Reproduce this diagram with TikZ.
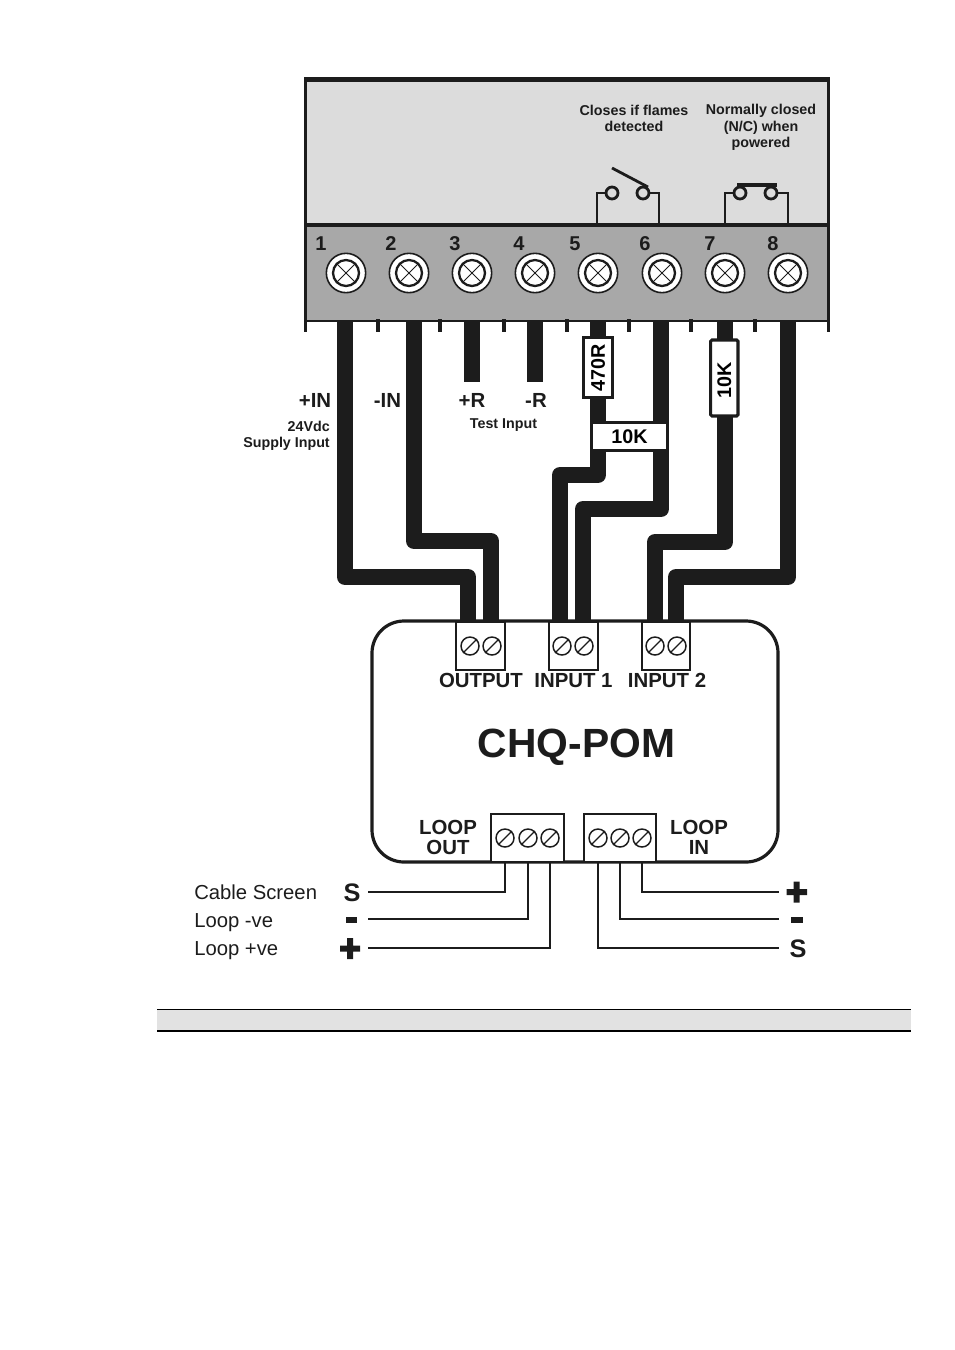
\documentclass[tikz,border=0pt]{standalone}
\usepackage{fontspec}
\setmainfont{Liberation Sans}
\begin{document}
\begin{tikzpicture}[x=0.75pt,y=-0.75pt,
  thin wire/.style={line width=2pt,line join=miter,draw=ink},
  switch wire/.style={line width=2.1pt,line join=miter,draw=ink},
  fat wire/.style={line width=12pt,draw=ink,line join=round},
  tick/.style={line width=2.6pt,draw=ink},
  resistor/.style={draw=ink,fill=white,line width=2.3pt,inner sep=0pt,font=\bfseries\fontsize{14.8}{14.8}\selectfont},
  screw/.style={circle,draw=ink,line width=1.1pt,fill=white,minimum size=13.5pt,inner sep=0pt},
  block/.style={draw=ink,line width=1.3pt,fill=white,inner sep=0pt},
  contact/.style={circle,draw=ink,line width=2.1pt,fill=none,minimum size=9pt,inner sep=0pt},
  lab/.style={text=ink,inner sep=0pt,font=\bfseries\fontsize{15.3}{15.3}\selectfont},
  small/.style={text=ink,inner sep=0pt,font=\bfseries\fontsize{10.7}{12.3}\selectfont,align=center},
  legend/.style={text=ink,inner sep=0pt,anchor=base west,font=\fontsize{15.2}{15.2}\selectfont},
  sym/.style={text=ink,inner sep=0pt,font=\bfseries\fontsize{19}{19}\selectfont},
  num/.style={text=ink,inner sep=0pt,font=\bfseries\fontsize{15}{15}\selectfont}]
\definecolor{ink}{HTML}{1C1C1C}
\definecolor{panel}{HTML}{DCDCDC}
\definecolor{strip}{HTML}{A8A8A8}
\definecolor{band}{HTML}{E2E2E2}
\useasboundingbox (0,0) rectangle (954,1350);

% footer band
\fill[band] (157,1009.5) rectangle (911,1031);
\draw[line width=1pt,draw=black] (157,1009.5) -- (911,1009.5) (157,1031) -- (911,1031);

% housing
\fill[panel] (305.5,79.5) rectangle (828.5,225);
\fill[strip] (305.5,225) rectangle (828.5,321);
\foreach \x in {305.5,378,440,504,567,629,691,755,828.5}
  \draw[tick] (\x,319) -- (\x,332);
\draw[draw=ink,line width=2.3pt] (305.5,321) -- (305.5,79.5) (828.5,79.5) -- (828.5,321);
\draw[draw=ink,line width=3.4pt] (304,79.5) -- (830,79.5);
\draw[draw=ink,line width=2.2pt] (304,321) -- (830,321);
\draw[draw=ink,line width=3pt] (305.5,225) -- (828.5,225);

% screws of the terminal strip
\foreach \n/\x/\lx in {1/346/321,2/409/391,3/472/455,4/535/519,5/598/575,6/662/645,7/725/710,8/788/773}{
  \node[circle,draw=ink,line width=1.2pt,fill=white,minimum size=29.5pt,inner sep=0pt] (t\n) at (\x,273) {};
  \node[circle,draw=ink,line width=1.7pt,fill=white,minimum size=19.5pt,inner sep=0pt] (h\n) at (\x,273) {};
  \draw[draw=ink,line width=0.7pt] (h\n.45) -- (h\n.225) (h\n.135) -- (h\n.315);
  \node[num] (n\n) at (\lx,243.5) {\n};
}

% module body
\draw[draw=ink,line width=2.4pt,fill=white,rounded corners=24pt] (372,621) rectangle (778,862);
\node[text=ink,inner sep=0pt,anchor=base,font=\bfseries\fontsize{30.6}{30.6}\selectfont] (title) at (576.5,757) {CHQ-POM};

% upper terminal blocks
\node[block,minimum width=36.5pt,minimum height=36pt] (bo) at (480.5,646) {};
\node[block,minimum width=36.5pt,minimum height=36pt] (bi1) at (573.5,646) {};
\node[block,minimum width=36.5pt,minimum height=36pt] (bi2) at (666,646) {};
% lower terminal blocks
\node[block,minimum width=54.5pt,minimum height=36pt] (blo) at (527.5,838) {};
\node[block,minimum width=54.5pt,minimum height=36pt] (bli) at (620,838) {};
\foreach \nm/\x/\y in {a/470/646,b/492/646,c/562/646,d/584/646,e/655/646,f/677/646,
  g/505/838,h/528/838,i/550/838,j/598/838,k/620/838,l/642/838}{
  \node[screw] (s\nm) at (\x,\y) {};
  \draw[draw=ink,line width=0.9pt] (s\nm.225) -- (s\nm.45);
}

% fat wires from the strip to the module
\foreach \nm/\x in {1/345,2/414,3/472,4/535,5/598,6/661,7/725,8/788}
  \coordinate (w\nm) at (\x,321);
\foreach \nm/\x in {o1/468,o2/491,i1/560,i2/583,i3/655,i4/676}
  \coordinate (e\nm) at (\x,621);
\draw[fat wire] (w1) |- (eo1 |- 0,577) -- (eo1);
\draw[fat wire] (w2) |- (eo2 |- 0,541) -- (eo2);
\coordinate (r3) at (472,382);
\coordinate (r4) at (535,382);
\draw[fat wire] (w3) -- (r3);
\draw[fat wire] (w4) -- (r4);
\draw[fat wire] (w5) |- (ei1 |- 0,475) -- (ei1);
\draw[fat wire] (w6) |- (ei2 |- 0,509) -- (ei2);
\draw[fat wire] (w7) |- (ei3 |- 0,542) -- (ei3);
\draw[fat wire] (w8) |- (ei4 |- 0,577) -- (ei4);

% resistors
\node[resistor,minimum width=22pt,minimum height=45.5pt] (r470) at (598,367.5) {\rotatebox{90}{470R}};
\node[resistor,minimum width=20.5pt,minimum height=57pt,rounded corners=1pt] (r10a) at (724.3,378) {\rotatebox{90}{10K\hspace{3pt}}};
\node[resistor,minimum width=57.4pt,minimum height=21.4pt] (r10b) at (629.5,436.5) {10K\hspace{3pt}};

% contacts
\coordinate (p5) at (597,225);
\coordinate (p6) at (659,225);
\coordinate (p7) at (725,225);
\coordinate (p8) at (788,225);
\node[contact] (c5) at (612,193) {};
\node[contact] (c6) at (643,193) {};
\node[contact] (c7) at (740,193) {};
\node[contact] (c8) at (771,193) {};
\draw[switch wire] (p5) |- (c5);
\draw[switch wire] (p6) |- (c6);
\draw[switch wire] (p7) |- (c7);
\draw[switch wire] (p8) |- (c8);
\coordinate (bl) at (612,168);
\coordinate (bm) at (648,187);
\draw[switch wire] (bl) -- (bm);
\coordinate (bar1) at (737,184.5);
\coordinate (bar2) at (777,184.5);
\draw[switch wire,line width=3pt] (bar1) -- (bar2);

% loop wires
\coordinate (la) at (368,892); \coordinate (lb) at (368,919); \coordinate (lc) at (368,948);
\coordinate (ra) at (779,892); \coordinate (rb) at (779,919); \coordinate (rc) at (779,948);
\draw[thin wire] (505,862) |- (la);
\draw[thin wire] (528,862) |- (lb);
\draw[thin wire] (550,862) |- (lc);
\draw[thin wire] (642,862) |- (ra);
\draw[thin wire] (620,862) |- (rb);
\draw[thin wire] (598,862) |- (rc);

% labels
\node[small] (tf) at (634,118.5) {Closes if flames\\detected};
\node[small] (tn) at (761,127.5) {Normally closed\\(N/C) when\\powered};
\node[lab] (lin1) at (315,400) {+IN};
\node[lab] (lin2) at (387.5,400) {-IN};
\node[lab] (lr1) at (472,400) {+R};
\node[lab] (lr2) at (536,400) {-R};
\node[small,align=right,anchor=east] (sup) at (330,436) {24Vdc\\Supply Input};
\node[small] (ti) at (503.5,425) {Test Input};
\node[lab] (lo) at (481,680.5) {OUTPUT};
\node[lab] (l1) at (573.5,680.5) {INPUT 1};
\node[lab] (l2) at (667,680.5) {INPUT 2};
\node[lab] (ll1) at (448,827) {LOOP};
\node[lab] (ll2) at (448,847) {OUT};
\node[lab] (lr3) at (699,827) {LOOP};
\node[lab] (lr4) at (699,847) {IN};
\node[legend] (k1) at (194,899) {Cable Screen};
\node[legend] (k2) at (194,927) {Loop -ve};
\node[legend] (k3) at (194,955) {Loop +ve};
\node[sym] (y1) at (352,893) {S};
\fill[ink] (345.5,917) rectangle (357,923);
\fill[ink] (340,945.5) rectangle (360,951.5) (347,938) rectangle (353,959);
\fill[ink] (786.5,889) rectangle (807,895) (793.5,881.5) rectangle (799.5,902.5);
\fill[ink] (791,916.5) rectangle (802.5,922.5);
\node[sym] (y2) at (798,948.5) {S};
\end{tikzpicture}
\end{document}
